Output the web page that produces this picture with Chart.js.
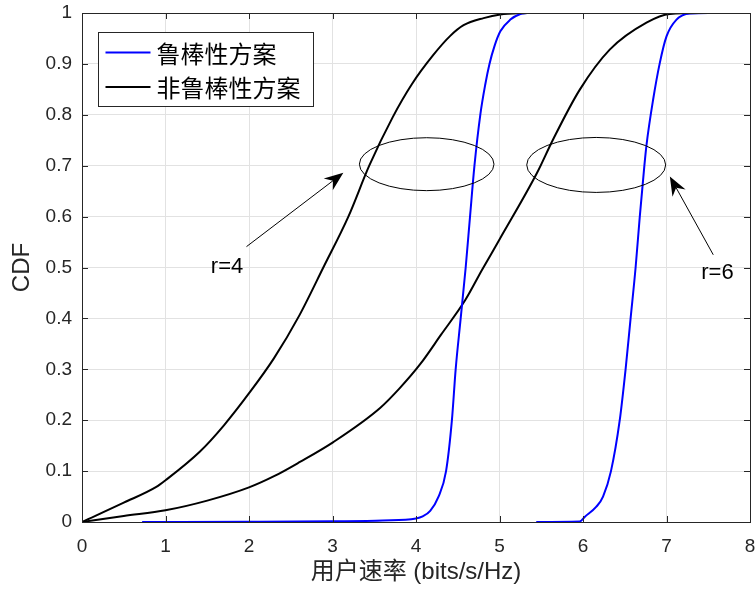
<!DOCTYPE html>
<html>
<head>
<meta charset="utf-8">
<script src="https://cdn.jsdelivr.net/npm/chart.js@4.4.0/dist/chart.umd.min.js"></script>
<style>
  html, body { margin: 0; padding: 0; background: #ffffff; }
  #wrap { width: 756px; height: 597px; }
</style>
</head>
<body>
<div id="wrap"><canvas id="cdf" width="756" height="597"></canvas></div>
<script>
// Tick labels
const xTickLabels = ['0', '1', '2', '3', '4', '5', '6', '7', '8'];
const yTickLabels = ['0', '0.1', '0.2', '0.3', '0.4', '0.5', '0.6', '0.7', '0.8', '0.9', '1'];

// Series names
const seriesNames = ['鲁棒性方案', '非鲁棒性方案'];

// CDF curves, [rate (bits/s/Hz), CDF]
const robustR4 = [[0.72,0],[2,0.0005],[3,0.0015],[3.6,0.003],[4.0,0.007],[4.08,0.011],[4.17,0.022],
  [4.27,0.05],[4.36,0.1],[4.43,0.2],[4.475,0.3],[4.535,0.4],[4.595,0.5],[4.647,0.6],[4.70,0.7],
  [4.77,0.80],[4.83,0.86],[4.88,0.90],[4.94,0.935],[5.01,0.964],[5.13,0.987],[5.25,0.998],[5.33,1.0]];
const nonRobustR4 = [[0,0],[0.5,0.038],[0.89,0.069],[1.0,0.082],[1.41,0.138],[1.7,0.19],[2.01,0.255],
  [2.3,0.322],[2.6,0.405],[2.89,0.50],[3.19,0.60],[3.44,0.70],[3.72,0.795],[3.95,0.86],[4.21,0.918],
  [4.41,0.955],[4.57,0.976],[4.81,0.99],[5.01,0.997],[5.33,1.0]];
const robustR6 = [[5.44,0],[5.96,0.001],[6.02,0.01],[6.16,0.03],[6.24,0.05],[6.335,0.1],[6.44,0.2],
  [6.51,0.3],[6.57,0.4],[6.63,0.5],[6.68,0.6],[6.735,0.7],[6.76,0.74],[6.84,0.83],[6.92,0.902],
  [7.0,0.954],[7.12,0.987],[7.28,0.999],[7.54,1.0]];
const nonRobustR6 = [[0,0],[0.5,0.012],[1.0,0.023],[1.5,0.042],[2.0,0.068],[2.3,0.09],[2.61,0.118],
  [3.01,0.157],[3.57,0.224],[3.8,0.262],[4.05,0.31],[4.3,0.368],[4.59,0.436],[4.79,0.495],[5.0,0.555],
  [5.45,0.686],[5.64,0.751],[5.96,0.849],[6.32,0.928],[6.76,0.981],[7.04,0.998],[7.48,1.0]];

// Callouts: ellipses around each pair of curves, arrows and their labels (data units)
const ellipses = [
  { cx: 4.128, cy: 0.703, rx: 0.806, ry: 0.052 },
  { cx: 6.158, cy: 0.7015, rx: 0.832, ry: 0.054 }
];
const arrows = [
  { from: [1.97, 0.541], to: [3.13, 0.686] },
  { from: [7.56, 0.525], to: [7.04, 0.679] }
];
const callouts = [
  { text: 'r=4', x: 1.737, y: 0.502 },
  { text: 'r=6', x: 7.61, y: 0.489 }
];

const AXIS_COLOR = '#262626';
const LATIN = '"Liberation Sans", Arial, Helvetica, sans-serif';
const MIXED = '"Liberation Sans", Arial, "Noto Sans CJK SC", sans-serif';

const toPoints = arr => arr.map(p => ({ x: p[0], y: p[1] }));

function curve(label, data, color) {
  return {
    label: label,
    data: toPoints(data),
    borderColor: color,
    backgroundColor: color,
    borderWidth: 2,
    pointRadius: 0,
    pointHoverRadius: 0,
    fill: false,
    cubicInterpolationMode: 'monotone'
  };
}

// Axes box with inward ticks on all four sides
const axesBox = {
  id: 'axesBox',
  afterDatasetsDraw(chart) {
    const { ctx, chartArea: a, scales: { x, y } } = chart;
    const tl = 6;
    ctx.save();
    ctx.strokeStyle = AXIS_COLOR;
    ctx.lineWidth = 1;
    ctx.beginPath();
    x.ticks.forEach(t => {
      const px = Math.round(x.getPixelForValue(t.value)) + 0.5;
      ctx.moveTo(px, a.bottom); ctx.lineTo(px, a.bottom - tl);
      ctx.moveTo(px, a.top); ctx.lineTo(px, a.top + tl);
    });
    y.ticks.forEach(t => {
      const py = Math.round(y.getPixelForValue(t.value)) + 0.5;
      ctx.moveTo(a.left, py); ctx.lineTo(a.left + tl, py);
      ctx.moveTo(a.right, py); ctx.lineTo(a.right - tl, py);
    });
    ctx.stroke();
    ctx.strokeRect(Math.round(a.left) + 0.5, Math.round(a.top) + 0.5,
                   Math.round(a.right - a.left), Math.round(a.bottom - a.top));
    ctx.restore();
  }
};

// Ellipses, arrows and r labels
const calloutLayer = {
  id: 'calloutLayer',
  afterDatasetsDraw(chart) {
    const { ctx, scales: { x, y } } = chart;
    ctx.save();
    ctx.strokeStyle = '#000';
    ctx.fillStyle = '#000';
    ctx.lineWidth = 1;
    ellipses.forEach(e => {
      const cx = x.getPixelForValue(e.cx), cy = y.getPixelForValue(e.cy);
      const rx = x.getPixelForValue(e.cx + e.rx) - cx;
      const ry = cy - y.getPixelForValue(e.cy + e.ry);
      ctx.beginPath();
      ctx.ellipse(cx, cy, rx, ry, 0, 0, Math.PI * 2);
      ctx.stroke();
    });
    arrows.forEach(ar => {
      const x0 = x.getPixelForValue(ar.from[0]), y0 = y.getPixelForValue(ar.from[1]);
      const x1 = x.getPixelForValue(ar.to[0]), y1 = y.getPixelForValue(ar.to[1]);
      const ang = Math.atan2(y1 - y0, x1 - x0);
      const hl = 19, hw = 7.5, notch = 13;
      const ux = Math.cos(ang), uy = Math.sin(ang);
      const bx = x1 - ux * hl, by = y1 - uy * hl;
      ctx.beginPath();
      ctx.moveTo(x0, y0);
      ctx.lineTo(x1 - ux * notch, y1 - uy * notch);
      ctx.stroke();
      ctx.beginPath();
      ctx.moveTo(x1, y1);
      ctx.lineTo(bx - uy * hw, by + ux * hw);
      ctx.lineTo(x1 - ux * notch, y1 - uy * notch);
      ctx.lineTo(bx + uy * hw, by - ux * hw);
      ctx.closePath();
      ctx.fill();
    });
    ctx.font = '22px ' + LATIN;
    ctx.textAlign = 'center';
    ctx.textBaseline = 'middle';
    callouts.forEach(c => {
      ctx.fillText(c.text, x.getPixelForValue(c.x), y.getPixelForValue(c.y));
    });
    ctx.restore();
  }
};

// Legend box in the upper-left corner of the plot
const legendBox = {
  id: 'legendBox',
  afterDraw(chart) {
    const { ctx, chartArea: a } = chart;
    const entries = chart.data.datasets.filter(d => d.inLegend);
    const left = a.left + 16.5, top = a.top + 19.5, w = 215, rowH = 34.6;
    const h = 74;
    ctx.save();
    ctx.fillStyle = '#fff';
    ctx.fillRect(left, top, w, h);
    ctx.strokeStyle = AXIS_COLOR;
    ctx.lineWidth = 1;
    ctx.strokeRect(left, top, w, h);
    ctx.font = '24px "Noto Sans CJK SC", sans-serif';
    ctx.textBaseline = 'middle';
    ctx.textAlign = 'left';
    entries.forEach((d, i) => {
      const cy = top + 20 + i * rowH;
      ctx.strokeStyle = d.borderColor;
      ctx.lineWidth = 2;
      ctx.beginPath();
      ctx.moveTo(left + 7, cy);
      ctx.lineTo(left + 52, cy);
      ctx.stroke();
      ctx.fillStyle = '#000';
      ctx.fillText(d.label, left + 58, cy + 1);
    });
    ctx.restore();
  }
};

const datasets = [
  Object.assign(curve(seriesNames[0], robustR4, '#0000ff'), { inLegend: true }),
  Object.assign(curve(seriesNames[1], nonRobustR4, '#000000'), { inLegend: true }),
  curve(seriesNames[0], robustR6, '#0000ff'),
  curve(seriesNames[1], nonRobustR6, '#000000')
];

new Chart(document.getElementById('cdf'), {
  type: 'line',
  data: { datasets: datasets },
  options: {
    responsive: false,
    devicePixelRatio: 1,
    animation: false,
    events: [],
    layout: { padding: { top: 13, right: 6, left: 0, bottom: 0 } },
    plugins: { legend: { display: false }, tooltip: { enabled: false } },
    scales: {
      x: {
        type: 'linear',
        min: 0, max: 8,
        afterFit(s) { s.height = 75; s.paddingLeft = 0; s.paddingRight = 0; },
        border: { display: false },
        grid: { color: '#e2e2e2', lineWidth: 1, drawTicks: false },
        ticks: {
          stepSize: 1, autoSkip: false, maxRotation: 0, padding: 13,
          color: AXIS_COLOR, font: { family: LATIN, size: 19 },
          callback: (v, i) => xTickLabels[i]
        },
        title: {
          display: true, text: '用户速率 (bits/s/Hz)', color: AXIS_COLOR,
          font: { family: MIXED, size: 24, lineHeight: 1.2 },
          padding: { top: 0, bottom: 10 }
        }
      },
      y: {
        type: 'linear',
        min: 0, max: 1,
        afterFit(s) { s.width = 82; s.paddingTop = 0; s.paddingBottom = 0; },
        border: { display: false },
        grid: { color: '#e2e2e2', lineWidth: 1, drawTicks: false },
        ticks: {
          stepSize: 0.1, autoSkip: false, padding: 10,
          color: AXIS_COLOR, font: { family: LATIN, size: 19 },
          callback: (v, i) => yTickLabels[i]
        },
        title: {
          display: true, text: 'CDF', color: AXIS_COLOR,
          font: { family: LATIN, size: 24, lineHeight: 1.2 },
          padding: { top: 8, bottom: 0 }
        }
      }
    }
  },
  plugins: [axesBox, calloutLayer, legendBox]
});
</script>
</body>
</html>
